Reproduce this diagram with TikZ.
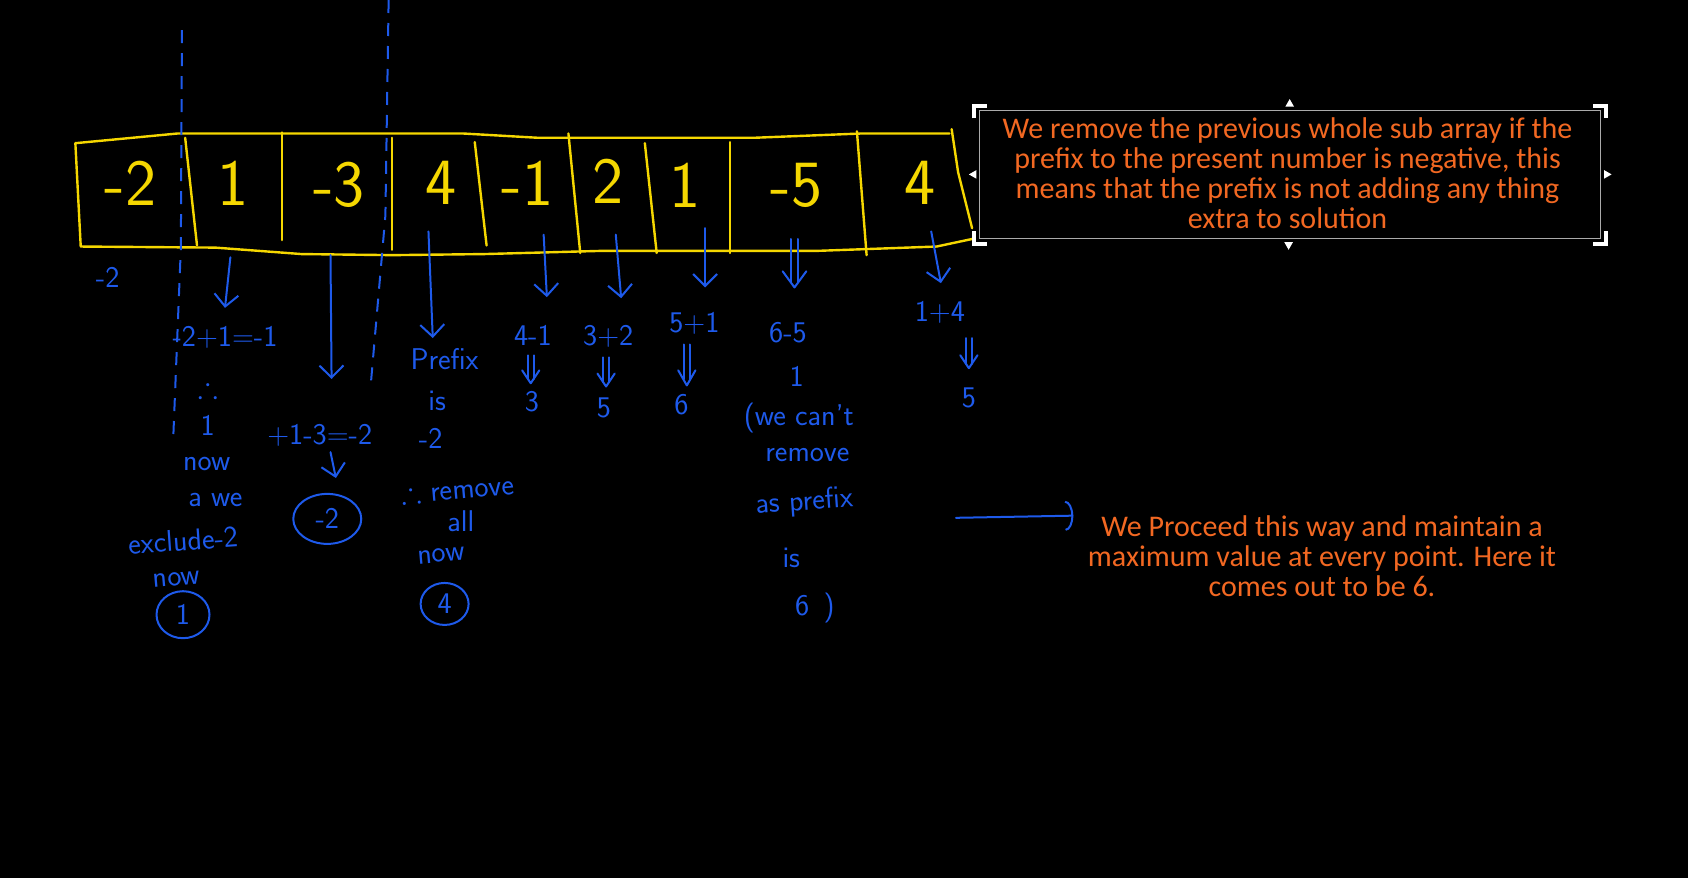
\documentclass[tikz,border=0pt]{standalone}
\usepackage{fontspec}
\usepackage{amssymb}
\setmainfont{Carlito}
\usetikzlibrary{arrows.meta,shapes.geometric}
\definecolor{yel}{RGB}{245,215,0}
\definecolor{hand}{RGB}{30,90,235}
\definecolor{org}{RGB}{242,104,34}
\definecolor{gry}{RGB}{170,170,170}
\begin{document}
\begin{tikzpicture}[x=1.0765pt,y=-1.0765pt,
  cellline/.style={draw=yel,line width=2.4pt,line cap=round,line join=round},
  cellnum/.style={text=yel,font=\sffamily\fontsize{66}{66}\selectfont,inner sep=0pt},
  hw/.style={text=hand,font=\sffamily\fontsize{30}{32}\selectfont,inner sep=0pt},
  pen/.style={draw=hand,line width=2pt,line cap=round,line join=round},
  penarrow/.style={pen,-{Straight Barb[length=12pt,width=24pt,line width=2pt]}},
  cut/.style={draw=hand,line width=2pt,dash pattern=on 13pt off 10pt},
  ring/.style={draw=hand,line width=2pt,ellipse,inner sep=0pt},
  note/.style={text=org,font=\fontsize{30}{30}\selectfont,align=center,inner sep=0pt},
  handle/.style={draw=white,line width=4pt},
  tri/.style={fill=white}
]
\fill[black] (0,0) rectangle (1568,816);
\useasboundingbox (0,0) rectangle (1568,816);

% array outline
\draw[cellline] (70,133) -- (165,124) -- (430,124) -- (500,128) -- (700,128) -- (800,124) -- (882,124);
\draw[cellline] (884,120) -- (890,160) -- (903,212);
\draw[cellline] (903,222) -- (870,229) -- (760,233) -- (560,233) -- (450,236) -- (365,237) -- (280,236) -- (200,230) -- (75,229) -- (70,133);
% dividers
\draw[cellline] (172,128) -- (183,228);
\draw[cellline] (262,123) -- (262,223);
\draw[cellline] (364,128) -- (364,232);
\draw[cellline] (441,132) -- (452,228);
\draw[cellline] (528,124) -- (539,235);
\draw[cellline] (599,133) -- (610,235);
\draw[cellline] (678,132) -- (678,235);
\draw[cellline] (796,122) -- (805,237);

% numbers
\node[cellnum] (n1) at (121,170) {-2};
\node[cellnum] (n2) at (216,170) {1};
\node[cellnum] (n3) at (315,172) {-3};
\node[cellnum] (n4) at (410,170) {4};
\node[cellnum] (n5) at (490,170) {-1};
\node[cellnum] (n6) at (565,168) {2};
\node[cellnum] (n7) at (636,172) {1};
\node[cellnum] (n8) at (740,172) {-5};
\node[cellnum] (n9) at (855,170) {4};

% dashed cuts
\draw[cut] (169,28) -- (168,230) -- (161,405);
\draw[cut] (361,0) -- (358,200) -- (344,362);

% column 1
\node[hw] (c1a) at (100,258) {-2};
\draw[penarrow] (214,239) -- (209,286);
\node[hw] (c2a) at (209,313) {-2+1=-1};
\node[hw] (c2b) at (193,360) {$\therefore$};
\node[hw] (c2c) at (193,395) {1};
\node[hw] (c2d) at (192,431) {now};
\node[hw] (c2e) at (200,464) {a we};
\node[hw,rotate=4] (c2f) at (170,502) {exclude-2};
\node[hw,rotate=5] (c2g) at (164,538) {now};
\node[ring,minimum width=53pt,minimum height=47pt] (c2h) at (170,571) {};
\node[hw] at (c2h) {1};

% column -3
\draw[penarrow] (307,237) -- (308,352);
\node[hw] (c3a) at (297,404) {+1-3=-2};
\draw[penarrow] (307,420) -- (312,444);
\node[ring,minimum width=68pt,minimum height=50pt] (c3b) at (304,482) {};
\node[hw] at (c3b) {-2};

% column 4
\draw[penarrow] (398,215) -- (402,314);
\node[hw] (c4a) at (413,334) {Prefix};
\node[hw] (c4b) at (406,372) {is};
\node[hw] (c4c) at (400,407) {-2};
\node[hw,rotate=5] (c4d) at (425,454) {$\therefore$ remove};
\node[hw] (c4e) at (428,484) {all};
\node[hw,rotate=5] (c4f) at (410,516) {now};
\node[ring,minimum width=48pt,minimum height=42pt] (c4g) at (413,561) {};
\node[hw] at (c4g) {4};

% column -1
\draw[penarrow] (505,218) -- (508,276);
\node[hw] (c5a) at (495,312) {4-1};
\draw[pen] (490,330) -- (490,352) (496,330) -- (496,352);
\draw[pen] (485,344) -- (493,356) -- (501,344);
\node[hw] (c5c) at (494,373) {3};

% column 2
\draw[penarrow] (572,218) -- (577,277);
\node[hw] (c6a) at (565,312) {3+2};
\draw[pen] (560,332) -- (560,355) (566,332) -- (566,355);
\draw[pen] (555,347) -- (563,359) -- (571,347);
\node[hw] (c6c) at (561,379) {5};

% column 1 (second)
\draw[penarrow] (655,212) -- (655,267);
\node[hw] (c7a) at (645,300) {5+1};
\draw[pen] (635,320) -- (635,352) (641,320) -- (641,352);
\draw[pen] (630,344) -- (638,358) -- (646,344);
\node[hw] (c7c) at (633,376) {6};

% column -5
\draw[pen] (735,222) -- (735,262) (741,222) -- (741,262);
\draw[pen] (727,252) -- (738,267) -- (749,252);
\node[hw] (c8a) at (732,309) {6-5};
\node[hw] (c8b) at (740,350) {1};
\node[hw] (c8c) at (742,388) {(we can't};
\node[hw] (c8d) at (750,423) {remove};
\node[hw,rotate=4] (c8e) at (747,467) {as prefix};
\node[hw] (c8f) at (735,518) {is};
\node[hw] (c8g) at (757,565) {6 \,)};

% column 4 (last)
\draw[penarrow] (865,215) -- (874,263);
\node[hw] (c9a) at (873,290) {1+4};
\draw[pen] (897,314) -- (897,338) (903,314) -- (903,338);
\draw[pen] (892,330) -- (900,342) -- (908,330);
\node[hw] (c9c) at (900,370) {5};

% selected text box
\draw[gry,line width=1pt] (910,103) rectangle (1487,222);
\draw[handle] (905,110) -- (905,98) -- (917,98);
\draw[handle] (1480,98) -- (1492,98) -- (1492,110);
\draw[handle] (905,215) -- (905,227) -- (917,227);
\draw[handle] (1480,227) -- (1492,227) -- (1492,215);
\fill[tri] (1194,99) -- (1202,99) -- (1198,92) -- cycle;
\fill[tri] (1193,225) -- (1201,225) -- (1197,232) -- cycle;
\fill[tri] (907,158) -- (907,166) -- (900,162) -- cycle;
\fill[tri] (1490,158) -- (1490,166) -- (1497,162) -- cycle;
\node[note] (box1) at (1196,161) {We remove the previous whole sub array if the\\prefix to the present number is negative, this\\means that the prefix is not adding any thing\\extra to solution};

% final note
\coordinate (ls) at (888,481);
\node[note] (note2) at (1228,517) {We Proceed this way and maintain a\\maximum value at every point. Here it\\comes out to be 6.};
\draw[pen,-{Arc Barb[length=8pt,width=30pt,line width=2pt]}] (ls) -- (997,479);
\end{tikzpicture}
\end{document}
